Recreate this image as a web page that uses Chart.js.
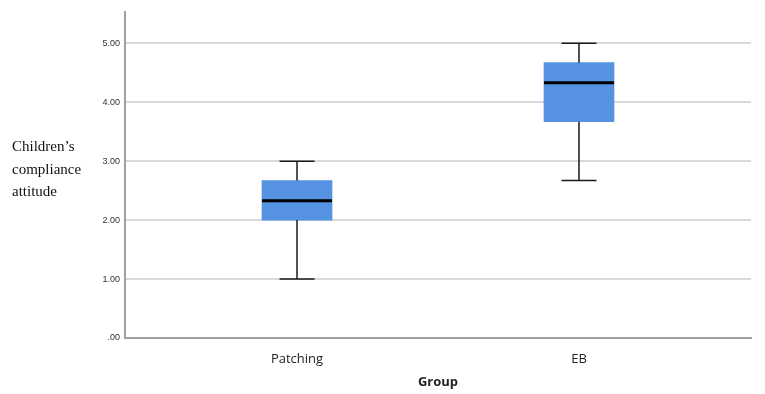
<!DOCTYPE html>
<html>
<head>
<meta charset="utf-8">
<script src="https://cdn.jsdelivr.net/npm/chart.js@4"></script>
<style>
  html, body { margin: 0; padding: 0; background: #fff; }
  #wrap { position: relative; width: 765px; height: 394px; }
  #yTitle {
    position: absolute; left: 12px; top: 135px;
    font-family: "Liberation Serif", "Times New Roman", serif;
    font-size: 15px; line-height: 22.5px; color: #111;
  }
</style>
</head>
<body>
<div id="wrap">
  <canvas id="chart" width="765" height="394"></canvas>
  <div id="yTitle">Children’s<br>compliance<br>attitude</div>
</div>
<script>
// box plot values per group
const groups = ['Patching', 'EB'];
const mins = [1.00, 2.67];
const q1s = [2.00, 3.67];
const medians = [2.33, 4.33];
const q3s = [2.67, 4.67];
const maxs = [3.00, 5.00];
const yTicks = [0, 1, 2, 3, 4, 5];

const boxColor = '#5592e2';

// whiskers + median drawn on the library scales
const boxPlugin = {
    id: 'boxExtras',
    afterDatasetsDraw(chart) {
        const ctx = chart.ctx;
        const x = chart.scales.x, y = chart.scales.y;
        const meta = chart.getDatasetMeta(0);
        ctx.save();
        groups.forEach((g, i) => {
            const bar = meta.data[i];
            const cx = bar.x;
            const half = bar.width / 2;
            const cap = half / 2;
            ctx.strokeStyle = '#1a1a1a';
            ctx.lineWidth = 1.5;
            ctx.beginPath();
            ctx.moveTo(cx, y.getPixelForValue(q3s[i]));
            ctx.lineTo(cx, y.getPixelForValue(maxs[i]));
            ctx.moveTo(cx, y.getPixelForValue(q1s[i]));
            ctx.lineTo(cx, y.getPixelForValue(mins[i]));
            ctx.moveTo(cx - cap, y.getPixelForValue(maxs[i]));
            ctx.lineTo(cx + cap, y.getPixelForValue(maxs[i]));
            ctx.moveTo(cx - cap, y.getPixelForValue(mins[i]));
            ctx.lineTo(cx + cap, y.getPixelForValue(mins[i]));
            ctx.stroke();
            ctx.lineWidth = 3;
            ctx.strokeStyle = '#000';
            ctx.beginPath();
            ctx.moveTo(cx - half, y.getPixelForValue(medians[i]));
            ctx.lineTo(cx + half, y.getPixelForValue(medians[i]));
            ctx.stroke();
        });
        ctx.restore();
    }
};

new Chart(document.getElementById('chart').getContext('2d'), {
    type: 'bar',
    data: {
        datasets: [{
            data: groups.map((g, i) => ({ x: i, y: [q1s[i], q3s[i]] })),
            backgroundColor: boxColor,
            borderWidth: 0,
            barThickness: 70
        }]
    },
    plugins: [boxPlugin],
    options: {
        responsive: false,
        animation: false,
        layout: { padding: { left: 0, right: 14, top: 12, bottom: 0 } },
        plugins: { legend: { display: false }, tooltip: { enabled: false } },
        scales: {
            x: {
                type: 'linear',
                offset: false,
                min: -0.61,
                max: 1.61,
                afterBuildTicks: s => { s.ticks = groups.map((g, i) => ({ value: i })); },
                afterFit: s => { s.height = 56; },
                ticks: {
                    callback: v => groups[v] || '',
                    font: { family: 'Open Sans', size: 13 },
                    color: '#222',
                    padding: 13
                },
                grid: { color: 'rgba(0,0,0,0)', drawTicks: false, offset: false },
                border: { display: true, color: '#a0a0a0', width: 2 },
                title: {
                    display: true,
                    text: 'Group',
                    font: { family: 'Open Sans', size: 13, weight: 'bold' },
                    color: '#222',
                    padding: { top: 2 }
                }
            },
            y: {
                min: 0,
                max: 5.53,
                afterBuildTicks: s => { s.ticks = yTicks.map(v => ({ value: v })); },
                afterFit: s => { s.width = 125; },
                ticks: {
                    callback: v => v === 0 ? '.00' : v.toFixed(2),
                    font: { family: 'Arial, Liberation Sans', size: 9 },
                    color: '#333',
                    padding: 5
                },
                grid: { color: '#d9d9d9', lineWidth: 2, drawTicks: false },
                border: { display: true, color: '#a0a0a0', width: 2 }
            }
        }
    }
});
</script>
</body>
</html>
